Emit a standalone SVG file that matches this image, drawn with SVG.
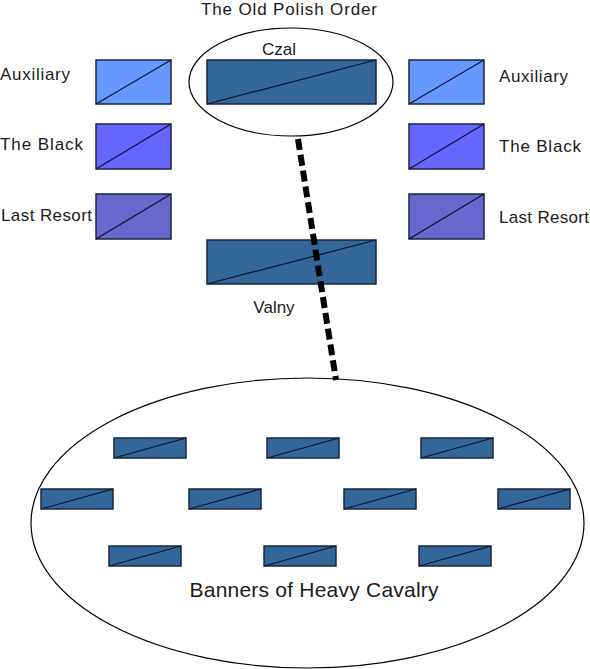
<svg xmlns="http://www.w3.org/2000/svg" width="590" height="669" viewBox="0 0 590 669">
<style>
text{font-family:"Liberation Sans",Arial,sans-serif;fill:#1a1a1a}
.lbl{font-size:17px}
.u{stroke:#1b2740;stroke-width:1.5}
.d{stroke:#0d1530;stroke-width:1.2;fill:none}
.main{fill:#336699}
.aux{fill:#6699ff}
.blk{fill:#6666ff}
.lr{fill:#6666cc}
.ell{fill:none;stroke:#000;stroke-width:1.2}
</style>
<rect width="590" height="669" fill="#fff"/>
<text id="title" class="lbl" x="289" y="15" text-anchor="middle" textLength="176">The Old Polish Order</text>
<g id="czal-group">
<ellipse class="ell" cx="291" cy="82" rx="102" ry="54"/>
<text class="lbl" x="279" y="55" text-anchor="middle">Czal</text>
</g>
<g id="czal"><rect class="u main" x="207" y="60" width="169" height="44"/><line class="d" x1="207" y1="104" x2="376" y2="60"/></g>
<g id="aux-left"><rect class="u aux" x="96" y="60" width="75" height="44"/><line class="d" x1="96" y1="104" x2="171" y2="60"/><text class="lbl" x="0" y="80" textLength="70">Auxiliary</text></g>
<g id="black-left"><rect class="u blk" x="96" y="124" width="75" height="45"/><line class="d" x1="96" y1="169" x2="171" y2="124"/><text class="lbl" x="0" y="150" textLength="83">The Black</text></g>
<g id="last-left"><rect class="u lr" x="96" y="194" width="75" height="45"/><line class="d" x1="96" y1="239" x2="171" y2="194"/><text class="lbl" x="1" y="221" textLength="91">Last Resort</text></g>
<g id="aux-right"><rect class="u aux" x="409" y="60" width="75" height="44"/><line class="d" x1="409" y1="104" x2="484" y2="60"/><text class="lbl" x="499" y="82" textLength="69">Auxiliary</text></g>
<g id="black-right"><rect class="u blk" x="409" y="124" width="75" height="45"/><line class="d" x1="409" y1="169" x2="484" y2="124"/><text class="lbl" x="499" y="152" textLength="82">The Black</text></g>
<g id="last-right"><rect class="u lr" x="409" y="194" width="75" height="45"/><line class="d" x1="409" y1="239" x2="484" y2="194"/><text class="lbl" x="499" y="223" textLength="90">Last Resort</text></g>
<g id="valny"><rect class="u main" x="207" y="240" width="169" height="44"/><line class="d" x1="207" y1="284" x2="376" y2="240"/><text class="lbl" x="274" y="313" text-anchor="middle">Valny</text></g>
<g id="banners">
<ellipse class="ell" cx="307.5" cy="523" rx="276.5" ry="145"/>
<g id="b1"><rect class="u main" x="114" y="438" width="72" height="20"/><line class="d" x1="114" y1="458" x2="186" y2="438"/></g>
<g id="b2"><rect class="u main" x="267" y="438" width="72" height="20"/><line class="d" x1="267" y1="458" x2="339" y2="438"/></g>
<g id="b3"><rect class="u main" x="421" y="438" width="72" height="20"/><line class="d" x1="421" y1="458" x2="493" y2="438"/></g>
<g id="b4"><rect class="u main" x="41" y="489" width="72" height="20"/><line class="d" x1="41" y1="509" x2="113" y2="489"/></g>
<g id="b5"><rect class="u main" x="189" y="489" width="72" height="20"/><line class="d" x1="189" y1="509" x2="261" y2="489"/></g>
<g id="b6"><rect class="u main" x="344" y="489" width="72" height="20"/><line class="d" x1="344" y1="509" x2="416" y2="489"/></g>
<g id="b7"><rect class="u main" x="498" y="489" width="72" height="20"/><line class="d" x1="498" y1="509" x2="570" y2="489"/></g>
<g id="b8"><rect class="u main" x="109" y="546" width="72" height="20"/><line class="d" x1="109" y1="566" x2="181" y2="546"/></g>
<g id="b9"><rect class="u main" x="264" y="546" width="72" height="20"/><line class="d" x1="264" y1="566" x2="336" y2="546"/></g>
<g id="b10"><rect class="u main" x="419" y="546" width="72" height="20"/><line class="d" x1="419" y1="566" x2="491" y2="546"/></g>
<text x="314" y="597" text-anchor="middle" font-size="21" textLength="249">Banners of Heavy Cavalry</text>
</g>
<g id="connectors">
<line x1="298" y1="139" x2="336" y2="380" stroke="#000" stroke-width="6" stroke-dasharray="11,5"/>
</g>
</svg>
